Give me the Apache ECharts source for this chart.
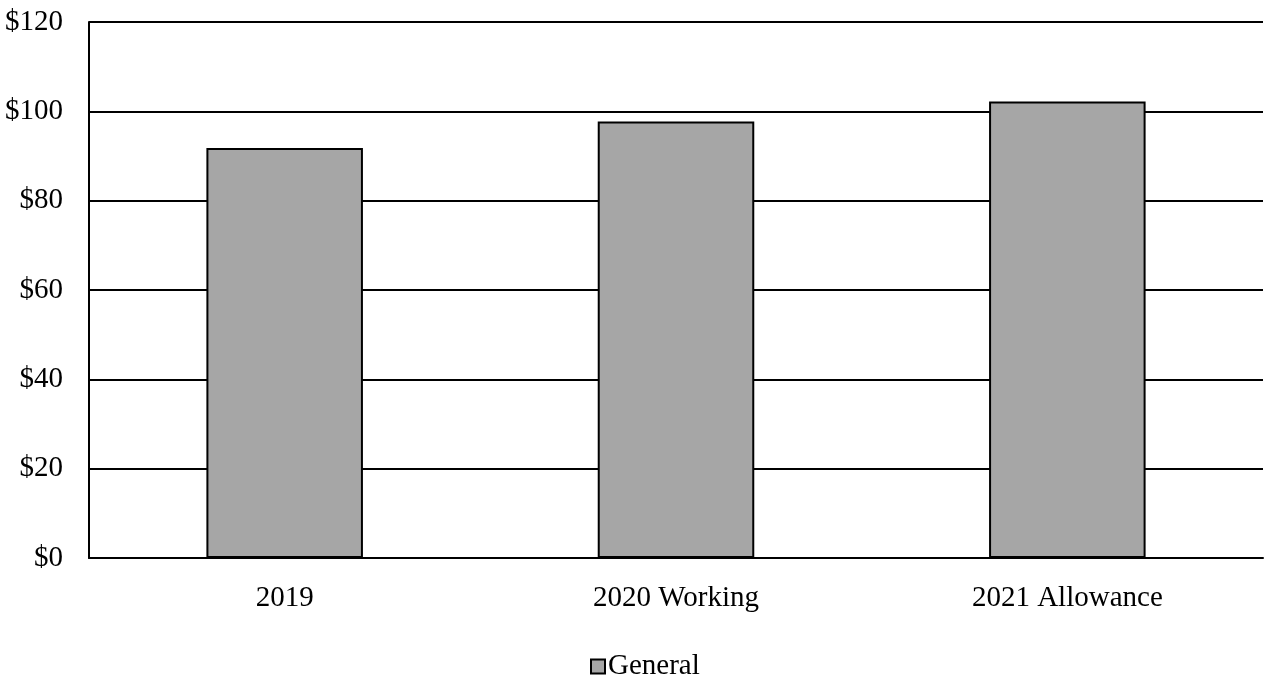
<!DOCTYPE html>
<html>
<head>
<meta charset="utf-8">
<script src="https://cdn.jsdelivr.net/npm/echarts@6/dist/echarts.min.js"></script>
<style>
  html, body { margin: 0; padding: 0; background: #fff; }
  #main { width: 1265px; height: 679px; }
</style>
</head>
<body>
<div id="main"></div>
<script>
var categories = ['2019', '2020 Working', '2021 Allowance'];
var generalValues = [91.8, 97.7, 102.2];
var yTicks = [0, 20, 40, 60, 80, 100, 120];

var myChart = echarts.init(document.getElementById('main'));

var font = '"Liberation Serif", "Times New Roman", serif';

option = {
    animation: false,
    textStyle: { fontFamily: font },
    grid: {
        left: 89,
        right: 2,
        top: 22,
        bottom: 121,
        containLabel: false
    },
    legend: {
        top: 647,
        left: 585,
        itemWidth: 14,
        itemHeight: 14,
        icon: 'rect',
        textStyle: { fontFamily: font, fontSize: 29, color: '#000', padding: [0, 0, 0, -2] },
        data: ['General']
    },
    xAxis: [{
        type: 'category',
        data: categories,
        axisLine: { show: true, lineStyle: { color: '#000', width: 2 } },
        axisTick: { show: false },
        axisLabel: { color: '#000', fontSize: 29, fontFamily: font, margin: 26 }
    }],
    yAxis: [{
        type: 'value',
        min: yTicks[0],
        max: yTicks[yTicks.length - 1],
        interval: 20,
        axisLine: { show: true, lineStyle: { color: '#000', width: 2 } },
        axisTick: { show: false },
        splitLine: { show: true, lineStyle: { color: '#000', width: 2 } },
        axisLabel: {
            color: '#000', fontSize: 29, fontFamily: font, margin: 26,
            formatter: function (v) { return '$' + v; }
        }
    }],
    series: [{
        name: 'General',
        type: 'bar',
        barWidth: '40%',
        itemStyle: { color: '#a6a6a6', borderColor: '#000', borderWidth: 2 },
        data: generalValues
    }]
};

myChart.setOption(option);
</script>
</body>
</html>
